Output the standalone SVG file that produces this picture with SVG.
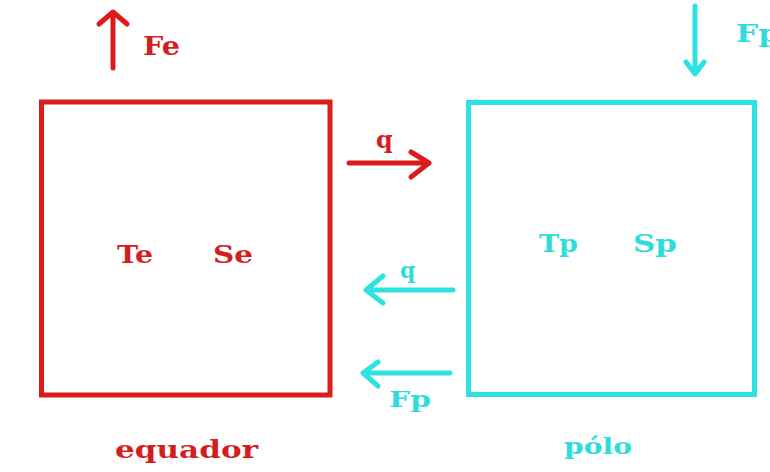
<svg xmlns="http://www.w3.org/2000/svg" width="770" height="472" viewBox="0 0 770 472">
<style>
.red{fill:none;stroke:#dc1c1c;stroke-width:5;stroke-linecap:round;stroke-linejoin:round}
.cy{fill:none;stroke:#2fe2e2;stroke-width:5;stroke-linecap:round;stroke-linejoin:round}
.box{stroke-linecap:butt;stroke-linejoin:miter}
.rt{fill:#d41e1e;font-family:"DejaVu Serif",serif;font-weight:bold}
.ct{fill:#2fdcdc;font-family:"DejaVu Serif",serif;font-weight:bold}
</style>
<rect width="770" height="472" fill="#ffffff"/>
<g id="equador">
<rect class="red box" x="41.5" y="102" width="288.5" height="293"/>
<text class="rt" x="117" y="263" font-size="25" textLength="36" lengthAdjust="spacingAndGlyphs">Te</text>
<text class="rt" x="213" y="263" font-size="25" textLength="40" lengthAdjust="spacingAndGlyphs">Se</text>
<text class="rt" x="115" y="458" font-size="24" textLength="143" lengthAdjust="spacingAndGlyphs">equador</text>
</g>
<g id="polo">
<rect class="cy box" x="468.5" y="102.5" width="286" height="292"/>
<text class="ct" x="539" y="252" font-size="24" textLength="39" lengthAdjust="spacingAndGlyphs">Tp</text>
<text class="ct" x="633" y="252" font-size="24" textLength="44" lengthAdjust="spacingAndGlyphs">Sp</text>
<text class="ct" x="564" y="454" font-size="22" textLength="68" lengthAdjust="spacingAndGlyphs">pólo</text>
</g>
<g id="connectors">
<path class="red" d="M113 68 L113 13 M99 24 L113 12 L127 24"/>
<text class="rt" x="143" y="55" font-size="26" textLength="37" lengthAdjust="spacingAndGlyphs">Fe</text>
<path class="cy" d="M695 6 L695 73 M686 62 L695 74 L704 62"/>
<text class="ct" x="736" y="42" font-size="24" textLength="44" lengthAdjust="spacingAndGlyphs">Fp</text>
<path class="red" d="M349 163 L429 163 M411 152 L429 163 L411 177"/>
<text class="rt" x="376" y="148" font-size="24">q</text>
<path class="cy" d="M453 290 L366 290 M383 276 L366 290 L383 303"/>
<text class="ct" x="400" y="278" font-size="22">q</text>
<path class="cy" d="M450 373 L363 373 M378 362 L363 373 L378 386"/>
<text class="ct" x="389" y="407" font-size="23" textLength="42" lengthAdjust="spacingAndGlyphs">Fp</text>
</g>
</svg>
